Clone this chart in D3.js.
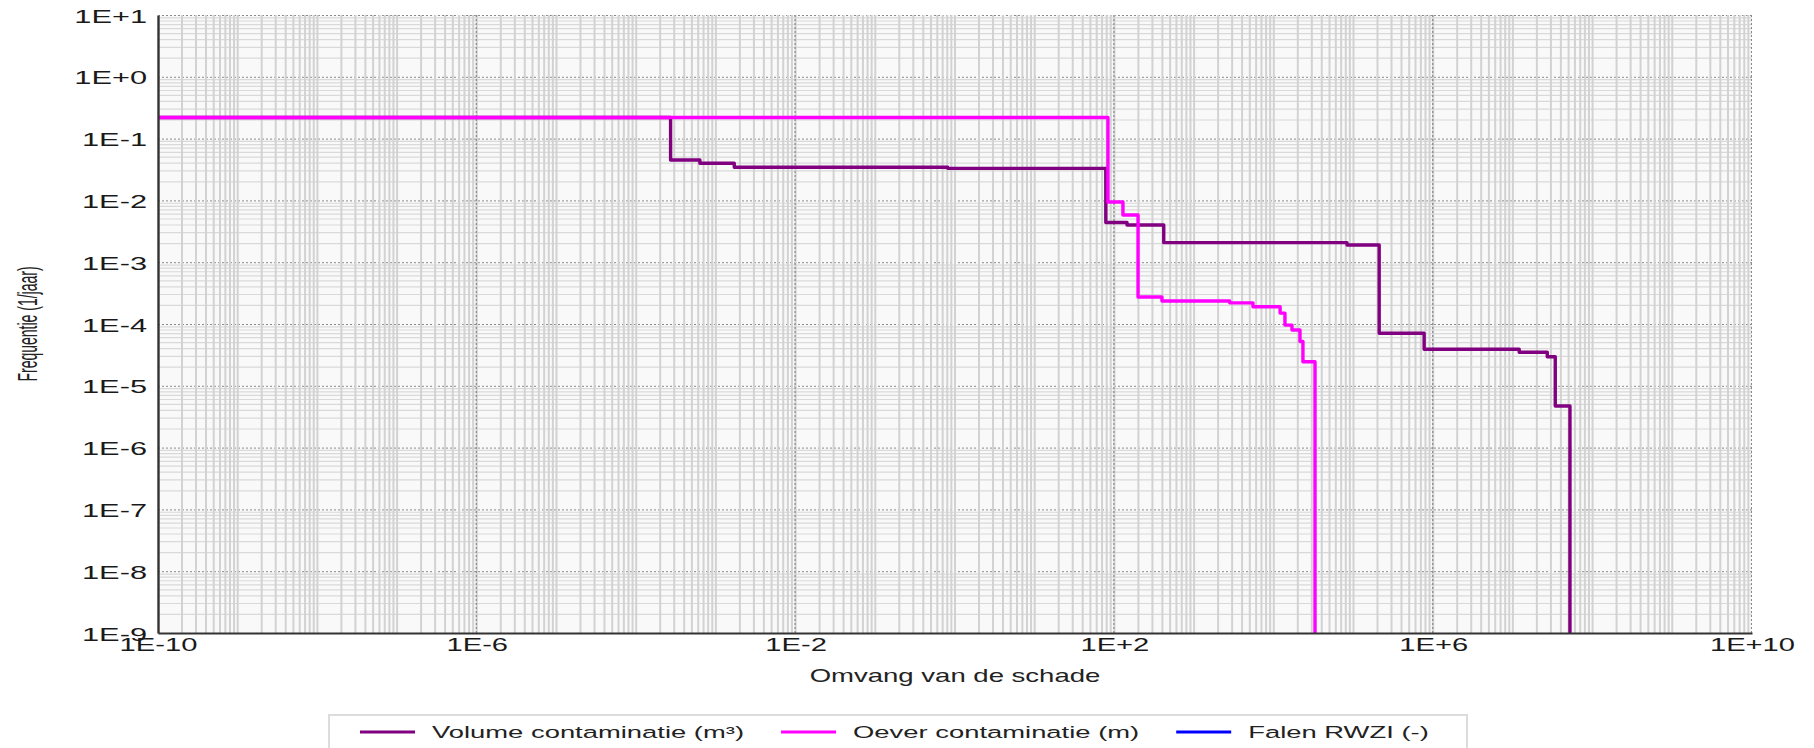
<!DOCTYPE html>
<html>
<head>
<meta charset="utf-8">
<script src="https://cdn.jsdelivr.net/npm/d3@7/dist/d3.min.js"></script>
<style>
  html, body { margin: 0; padding: 0; background: #fff; }
  svg { display: block; font-family: "Liberation Sans", Arial, sans-serif; }
</style>
</head>
<body>
<svg id="chart" width="1814" height="748"></svg>
<script>
// ---------- data ----------
const xTickValues = [1e-10, 1e-6, 1e-2, 1e2, 1e6, 1e10];
const xTickLabels = ["1E-10", "1E-6", "1E-2", "1E+2", "1E+6", "1E+10"];
const yTickValues = [1e1, 1e0, 1e-1, 1e-2, 1e-3, 1e-4, 1e-5, 1e-6, 1e-7, 1e-8, 1e-9];
const yTickLabels = ["1E+1", "1E+0", "1E-1", "1E-2", "1E-3", "1E-4", "1E-5", "1E-6", "1E-7", "1E-8", "1E-9"];

const seriesNames = ["Volume contaminatie (m\u00B3)", "Oever contaminatie (m)", "Falen RWZI (-)"];
const seriesColors = ["#800080", "#ff00ff", "#0000ff"];

// Volume contaminatie (step function, value holds until next x)
const volumeX = [1e-10, 2.7e-4, 6.3e-4, 1.7e-3, 0.81, 78, 144, 416, 8.3e4, 2.1e5, 7.7e5, 1.2e7, 2.7e7, 3.4e7, 5.2e7];
const volumeY = [0.22, 0.045, 0.040, 0.0343, 0.033, 0.0044, 0.0040, 0.00207, 0.0019, 7.1e-5, 3.9e-5, 3.5e-5, 2.95e-5, 4.7e-6, 1e-9];

// Oever contaminatie
const oeverX = [1e-10, 83, 128, 198, 395, 2800, 5480, 1.2e4, 1.38e4, 1.69e4, 2.13e4, 2.32e4, 3.29e4];
const oeverY = [0.22, 0.0094, 0.0058, 2.73e-4, 2.36e-4, 2.2e-4, 1.9e-4, 1.5e-4, 9.6e-5, 8.0e-5, 5.2e-5, 2.45e-5, 1e-9];

// Falen RWZI (no visible data)
const falenX = [];
const falenY = [];

// ---------- layout ----------
const W = 1814, H = 748;
const plot = { left: 158, right: 1752, top: 15, bottom: 633 };
const SX = 1.62; // horizontal glyph stretch seen in the reference

const svg = d3.select("#chart");
const x = d3.scaleLog().domain([1e-10, 1e10]).range([plot.left, plot.right]);
const y = d3.scaleLog().domain([1e-9, 1e1]).range([plot.bottom, plot.top]);

svg.append("defs").append("clipPath").attr("id", "clip")
  .append("rect").attr("x", plot.left).attr("y", plot.top)
  .attr("width", plot.right - plot.left).attr("height", plot.bottom - plot.top);

// background
svg.append("rect").attr("x", plot.left).attr("y", plot.top)
  .attr("width", plot.right - plot.left).attr("height", plot.bottom - plot.top)
  .attr("fill", "#f9f9f9");

const grid = svg.append("g").attr("clip-path", "url(#clip)");

// minor values
const xMinor = [], yMinor = [];
for (let d = -10; d < 10; d++) for (let k = 1; k <= 9; k++) xMinor.push(k * Math.pow(10, d));
for (let d = -9; d < 1; d++) for (let k = 2; k <= 9; k++) yMinor.push(k * Math.pow(10, d));

// horizontal minor grid
grid.append("g").selectAll("line").data(yMinor).join("line")
  .attr("x1", plot.left).attr("x2", plot.right)
  .attr("y1", d => y(d)).attr("y2", d => y(d))
  .attr("stroke", "#d9d9d9").attr("stroke-width", 1.2);

// horizontal major grid (dotted)
grid.append("g").selectAll("line").data(yTickValues).join("line")
  .attr("x1", plot.left).attr("x2", plot.right)
  .attr("y1", d => y(d) + 0.5).attr("y2", d => y(d) + 0.5)
  .attr("stroke", "#8a8a8a").attr("stroke-width", 1).attr("stroke-dasharray", "2,2");

// vertical minor grid
grid.append("g").selectAll("line").data(xMinor).join("line")
  .attr("x1", d => x(d)).attr("x2", d => x(d))
  .attr("y1", plot.top).attr("y2", plot.bottom)
  .attr("stroke", "#d2d2d2").attr("stroke-width", 2);

// vertical major grid (dotted)
grid.append("g").selectAll("line").data(xTickValues).join("line")
  .attr("x1", d => x(d) - 0.5).attr("x2", d => x(d) - 0.5)
  .attr("y1", plot.top).attr("y2", plot.bottom)
  .attr("stroke", "#8a8a8a").attr("stroke-width", 1.2).attr("stroke-dasharray", "2,2");

// ---------- series ----------
const line = d3.line().x(d => x(d[0])).y(d => y(d[1])).curve(d3.curveStepAfter);
const series = [
  { name: seriesNames[0], color: seriesColors[0], pts: d3.zip(volumeX, volumeY) },
  { name: seriesNames[1], color: seriesColors[1], pts: d3.zip(oeverX, oeverY) },
  { name: seriesNames[2], color: seriesColors[2], pts: d3.zip(falenX, falenY) }
];
const lines = svg.append("g").attr("clip-path", "url(#clip)");
series.forEach(s => {
  if (!s.pts.length) return;
  lines.append("path").datum(s.pts)
    .attr("d", line).attr("fill", "none")
    .attr("stroke", s.color).attr("stroke-width", 3.4)
    .attr("stroke-linejoin", "round");
});

// ---------- axes ----------
const xAxis = svg.append("g").attr("transform", `translate(0,${plot.bottom})`)
  .call(d3.axisBottom(x).tickValues(xTickValues)
    .tickFormat((d, i) => xTickLabels[i]).tickSize(0).tickSizeOuter(0));
xAxis.select(".domain").attr("stroke", "#333").attr("stroke-width", 2.2);
xAxis.selectAll(".tick text")
  .attr("y", 0).attr("dy", 0)
  .attr("transform", `translate(0,18) scale(${SX},1)`)
  .attr("font-size", 18).attr("fill", "#1a1a1a")
  .attr("font-family", "'Liberation Sans', Arial, sans-serif");

const yAxis = svg.append("g").attr("transform", `translate(${plot.left},0)`)
  .call(d3.axisLeft(y).tickValues(yTickValues)
    .tickFormat((d, i) => yTickLabels[i]).tickSize(0).tickSizeOuter(0));
yAxis.select(".domain").attr("stroke", "#333").attr("stroke-width", 2.4);
yAxis.selectAll(".tick text")
  .attr("x", 0).attr("dy", 0)
  .attr("transform", `translate(-11,7) scale(${SX},1)`)
  .attr("font-size", 19).attr("fill", "#1a1a1a")
  .attr("font-family", "'Liberation Sans', Arial, sans-serif");

// ---------- titles ----------
svg.append("text")
  .attr("transform", `translate(955,682) scale(1.53,1)`)
  .attr("text-anchor", "middle").attr("font-size", 18).attr("fill", "#222")
  .text("Omvang van de schade");

svg.append("text")
  .attr("transform", `translate(37,324) scale(2,1) rotate(-90)`)
  .attr("text-anchor", "middle").attr("font-size", 14).attr("fill", "#222")
  .text("Frequentie (1/jaar)");

// ---------- legend ----------
const legend = svg.append("g");
legend.append("rect").attr("x", 329).attr("y", 715).attr("width", 1467 - 329).attr("height", 60)
  .attr("fill", "#fff").attr("stroke", "#dcdcdc").attr("stroke-width", 2);
let lx = 360;
const ly = 732;
series.forEach(s => {
  legend.append("line").attr("x1", lx).attr("x2", lx + 55).attr("y1", ly).attr("y2", ly)
    .attr("stroke", s.color).attr("stroke-width", 3);
  const t = legend.append("text")
    .attr("transform", `translate(${lx + 72},${ly + 6}) scale(1.66,1)`)
    .attr("font-size", 16.5).attr("fill", "#222").text(s.name);
  const w = t.node().getComputedTextLength() * 1.66;
  lx = lx + 72 + w + 37;
});
</script>
</body>
</html>
